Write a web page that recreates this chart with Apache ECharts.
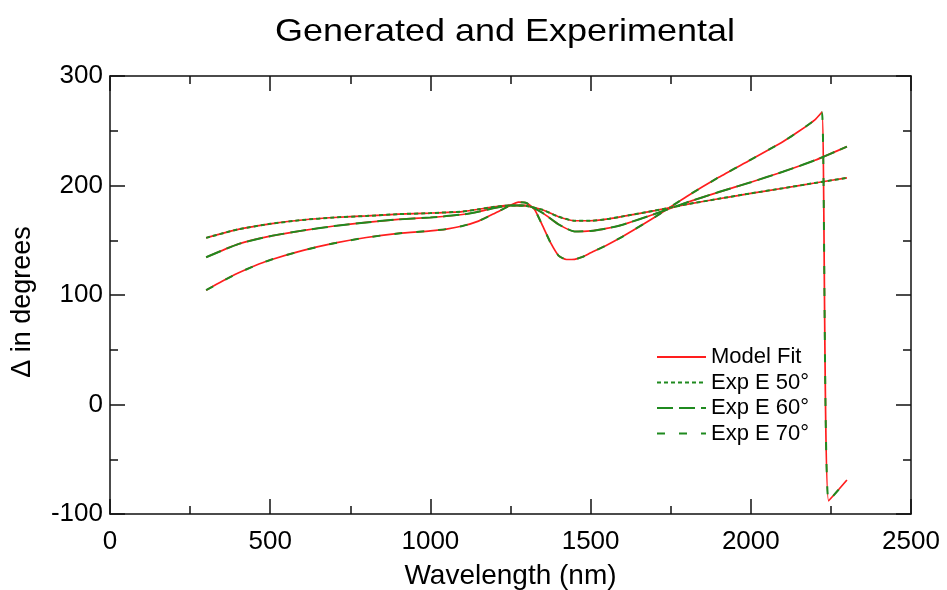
<!DOCTYPE html>
<html>
<head>
<meta charset="utf-8">
<script src="https://cdn.jsdelivr.net/npm/echarts@6/dist/echarts.min.js"></script>
<style>
  html, body { margin: 0; padding: 0; background: #ffffff; }
  #chart { width: 947px; height: 590px; }
</style>
</head>
<body>
<div id="chart"></div>
<script>
// ---- Data ----
const titleText = 'Generated and Experimental';
const xAxisTitle = 'Wavelength (nm)';
const yAxisTitle = '\u0394 in degrees';
const xTicks = [0, 500, 1000, 1500, 2000, 2500];
const yTicks = [-100, 0, 100, 200, 300];

// Wavelength grid for the 50° and 60° curves
const wavelengthsAB = [300, 400, 500, 600, 700, 800, 900, 1000, 1100, 1150, 1200, 1250, 1300,
  1350, 1400, 1450, 1500, 1550, 1600, 1700, 1800, 1900, 2000, 2100, 2200, 2300];
// 50° (top, flattest curve)
const delta50 = [152.2, 160, 165, 168.5, 170.8, 172.2, 173.8, 174.8, 176.2, 178.3, 180.5, 181.8, 181.3,
  177.8, 171.5, 167.8, 167.8, 169.3, 171.8, 177, 182.8, 187.9, 192.8, 197.5, 202.3, 207];
// 60° (middle curve)
const delta60 = [134.5, 146.5, 153.7, 158.8, 163, 166.3, 169, 170.8, 173.5, 176, 179.5, 181.8, 181.8,
  175, 164.5, 158, 158.5, 160.8, 164.2, 174, 184.5, 194, 203, 212.5, 223, 235.5];

// Wavelength grid for the 70° curve (with the wrap-around drop)
const wavelengthsC = [300, 350, 400, 450, 500, 600, 700, 800, 900, 1000, 1050, 1100, 1150, 1200, 1250,
  1275, 1300, 1325, 1350, 1375, 1400, 1425, 1450, 1475, 1500, 1550, 1600, 1700, 1800, 1900, 2000,
  2100, 2150, 2200, 2222, 2243, 2300];
const delta70 = [104.4, 112.5, 120, 126.5, 132, 140.5, 147.3, 152.5, 156.2, 158.6, 160.2, 163, 167.5, 174.5, 182,
  184.8, 184, 178, 163.3, 147.8, 136, 132.4, 132.6, 134.8, 138.5, 145.5, 153.4, 171, 190, 207.5, 223.6,
  240, 249.5, 260, 267, -88, -69];

// Experimental curves (overlay the model within the drawing resolution)
const exp50 = delta50.slice();
const exp60 = delta60.slice();
const exp70 = delta70.slice();

const modelName = 'Model Fit';
const expNames = ['Exp E 50\u00b0', 'Exp E 60\u00b0', 'Exp E 70\u00b0'];

// ---- Build chart ----
function zip(xs, ys) { return xs.map((x, i) => [x, ys[i]]); }

const RED = '#ff1e1e';
const GREEN = '#1f8a1f';
const FONT = '"Liberation Sans", Arial, sans-serif';

function modelSeries(xs, ys) {
  return {
    name: modelName, type: 'line', data: zip(xs, ys),
    showSymbol: false, symbol: 'none', smooth: 0.2,
    lineStyle: { color: RED, width: 1.7, type: 'solid' },
    itemStyle: { color: RED }, z: 2, animation: false
  };
}
function expSeries(name, xs, ys, dash) {
  return {
    name: name, type: 'line', data: zip(xs, ys),
    showSymbol: false, symbol: 'none', smooth: 0.2,
    lineStyle: { color: GREEN, width: 2, type: dash },
    itemStyle: { color: GREEN }, z: 3, animation: false
  };
}

const axisLineStyle = { color: '#111', width: 1.5 };
function xAxisDef(pos, showLabels) {
  return {
    type: 'value', position: pos, min: xTicks[0], max: xTicks[xTicks.length - 1],
    interval: xTicks[1] - xTicks[0],
    name: showLabels ? xAxisTitle : '', nameLocation: 'middle', nameGap: 48,
    nameTextStyle: { fontFamily: FONT, fontSize: 28, color: '#000' },
    axisLine: { show: true, onZero: false, lineStyle: axisLineStyle },
    axisTick: { show: true, inside: true, length: 15, lineStyle: axisLineStyle },
    minorTick: { show: true, splitNumber: 2, length: 8, lineStyle: axisLineStyle },
    axisLabel: { show: showLabels, fontFamily: FONT, fontSize: 26, color: '#000', margin: 15,
      formatter: function (v) { return String(v); } },
    splitLine: { show: false }, minorSplitLine: { show: false }
  };
}
function yAxisDef(pos, showLabels) {
  return {
    type: 'value', position: pos, min: yTicks[0], max: yTicks[yTicks.length - 1],
    interval: yTicks[1] - yTicks[0],
    name: showLabels ? yAxisTitle : '', nameLocation: 'middle', nameGap: 74, nameRotate: 90,
    nameTextStyle: { fontFamily: FONT, fontSize: 27, color: '#000', padding: [0, 14, 0, 0] },
    axisLine: { show: true, onZero: false, lineStyle: axisLineStyle },
    axisTick: { show: true, inside: true, length: 15, lineStyle: axisLineStyle },
    minorTick: { show: true, splitNumber: 2, length: 8, lineStyle: axisLineStyle },
    axisLabel: { show: showLabels, fontFamily: FONT, fontSize: 26, color: '#000', margin: 7,
      formatter: function (v) { return String(v); } },
    splitLine: { show: false }, minorSplitLine: { show: false }
  };
}

const chart = echarts.init(document.getElementById('chart'), null, { renderer: 'canvas' });
chart.setOption({
  backgroundColor: '#ffffff',
  animation: false,
  grid: { left: 110, right: 36, top: 76, bottom: 76, containLabel: false, outerBoundsMode: 'none' },
  graphic: [{
    type: 'text', x: 505, y: 33, scaleX: 1.18, scaleY: 1,
    style: { text: titleText, fontFamily: FONT, fontSize: 30.5, fill: '#000',
      textAlign: 'center', textVerticalAlign: 'middle', align: 'center', verticalAlign: 'middle' }
  }],
  legend: {
    data: [modelName].concat(expNames), orient: 'vertical', left: 656, top: 346,
    itemWidth: 49, itemHeight: 14, itemGap: 3.5,
    itemStyle: { opacity: 0 },
    textStyle: { fontFamily: FONT, fontSize: 22, color: '#000', padding: [0, 0, 0, 0] },
    selectedMode: false, backgroundColor: 'transparent', padding: 0
  },
  xAxis: [xAxisDef('bottom', true), xAxisDef('top', false)],
  yAxis: [yAxisDef('left', true), yAxisDef('right', false)],
  series: [
    modelSeries(wavelengthsAB, delta50),
    modelSeries(wavelengthsAB, delta60),
    modelSeries(wavelengthsC, delta70),
    expSeries(expNames[0], wavelengthsAB, exp50, [4, 3]),
    expSeries(expNames[1], wavelengthsAB, exp60, [16, 6]),
    expSeries(expNames[2], wavelengthsC, exp70, [8, 14])
  ]
});
</script>
</body>
</html>
